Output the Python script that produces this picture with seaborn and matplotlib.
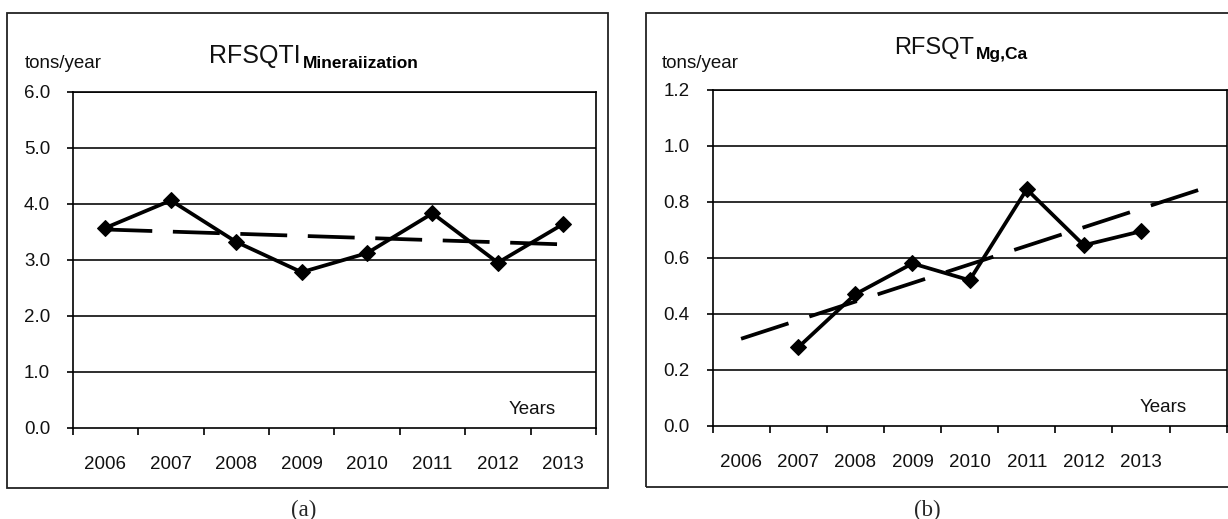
import numpy as np
import pandas as pd
import matplotlib
matplotlib.use("Agg")
import matplotlib.pyplot as plt
from matplotlib.patches import Rectangle
import seaborn as sns

# ---------------- data ----------------
years = ["2006", "2007", "2008", "2009", "2010", "2011", "2012", "2013"]
mineralization = [3.57, 4.06, 3.32, 2.78, 3.12, 3.83, 2.95, 3.64]
mg_ca = [np.nan, 0.28, 0.47, 0.58, 0.52, 0.845, 0.645, 0.695]

left_yticks = [0.0, 1.0, 2.0, 3.0, 4.0, 5.0, 6.0]
right_yticks = [0.0, 0.2, 0.4, 0.6, 0.8, 1.0, 1.2]

# ---------------- style ----------------
sns.set_style("white")
plt.rcParams["font.family"] = ["Liberation Sans", "DejaVu Sans"]

W, H = 1228, 519
fig = plt.figure(figsize=(W / 100, H / 100), dpi=100)


def rect(x0, y0, x1, y1):
    return [x0 / W, 1 - y1 / H, (x1 - x0) / W, (y1 - y0) / H]


def fx(x):
    return x / W


def fy(y):
    return 1 - y / H


FS = 13.5
LW_FRAME = 1.2


def setup_axes(ax, ncat, ymax, yticks):
    ax.set_xlim(-0.5, ncat - 0.5)
    ax.set_ylim(0, ymax)
    ax.set_yticks(yticks)
    ax.set_yticklabels([f"{v:.1f}" for v in yticks], fontsize=FS, color="#111111")
    # category boundaries as major ticks, labels at centres via minor ticks
    ax.set_xticks(np.arange(ncat + 1) - 0.5)
    ax.set_xticklabels([])
    ax.set_xticks(np.arange(len(years)), minor=True)
    ax.set_xticklabels(years, minor=True, fontsize=FS, color="#111111")
    ax.tick_params(axis="x", which="major", direction="out", length=5, width=LW_FRAME,
                   color="black", bottom=True)
    ax.tick_params(axis="x", which="minor", length=0, pad=20.5, bottom=True)
    ax.tick_params(axis="y", direction="out", length=4.3, width=LW_FRAME,
                   color="black", pad=12, left=True)
    for sp in ax.spines.values():
        sp.set_visible(True)
        sp.set_color("black")
        sp.set_linewidth(LW_FRAME)
    for v in yticks[1:]:
        ax.axhline(v, color="black", lw=1.15, zorder=1)
    ax.set_xlabel("")
    ax.set_ylabel("")


def draw_series(ax, values, trend_range, dash):
    x = np.arange(len(values))
    df = pd.DataFrame({"x": x, "y": values}).dropna()
    # linear trend line fitted to the data
    coef = np.polyfit(df["x"], df["y"], 1)
    tx = np.array(trend_range, dtype=float)
    tdf = pd.DataFrame({"x": tx, "y": np.polyval(coef, tx)})
    sns.lineplot(data=tdf, x="x", y="y", ax=ax, color="black", lw=2.7,
                 linestyle=(0, dash), zorder=3)
    sns.lineplot(data=df, x="x", y="y", ax=ax, color="black", lw=2.7,
                 marker="D", markersize=8.5, markeredgecolor="black", zorder=4)


# ---------------- outer boxes ----------------
fig.patches.append(Rectangle((fx(7.3), fy(488)), fx(607.7) - fx(7.3), fy(13.3) - fy(488),
                             transform=fig.transFigure, fill=False, lw=1.3,
                             edgecolor="#222222"))
fig.patches.append(Rectangle((fx(646), fy(487.3)), fx(1240) - fx(646), fy(13.3) - fy(487.3),
                             transform=fig.transFigure, fill=False, lw=1.3,
                             edgecolor="#222222"))

# ---------------- left panel ----------------
ax1 = fig.add_axes(rect(72.7, 91.7, 596, 428))
draw_series(ax1, mineralization, [0, 7], (12.5, 5.5))
setup_axes(ax1, 8, 6.0, left_yticks)

# ---------------- right panel ----------------
ax2 = fig.add_axes(rect(712.5, 90, 1226.7, 425.7))
draw_series(ax2, mg_ca, [0, 8], (13.3, 5.85))
setup_axes(ax2, 9, 1.2, right_yticks)

# ---------------- texts ----------------
fig.text(fx(25), fy(64), "tons/year", fontsize=FS, va="center", ha="left", color="#111111")
fig.text(fx(662), fy(64), "tons/year", fontsize=FS, va="center", ha="left", color="#111111")
fig.text(fx(509), fy(410), "Years", fontsize=FS, va="center", ha="left", color="#111111")
fig.text(fx(1140), fy(408), "Years", fontsize=FS, va="center", ha="left", color="#111111")

fig.text(fx(304), fy(510), "(a)", fontsize=16.5, family="Liberation Serif",
         ha="center", va="center")
fig.text(fx(927), fy(510), "(b)", fontsize=16.5, family="Liberation Serif",
         ha="center", va="center")

renderer = fig.canvas.get_renderer()


def title(x, base_y, main, sub, sub_drop, size_main):
    t = fig.text(fx(x), fy(base_y), main, fontsize=size_main, ha="left", va="baseline",
                 color="#111111")
    bb = t.get_window_extent(renderer=renderer)
    fig.text(bb.x1 / W + 2 / W, fy(base_y + sub_drop), sub, fontsize=12.5,
             fontweight="bold", ha="left", va="baseline", color="black")


title(209, 63.3, "RFSQTI", "Mineraiization", 5, 18)
title(894, 54, "RFSQT", "Mg,Ca", 4.5, 17)

fig.savefig("out.png", dpi=100)
